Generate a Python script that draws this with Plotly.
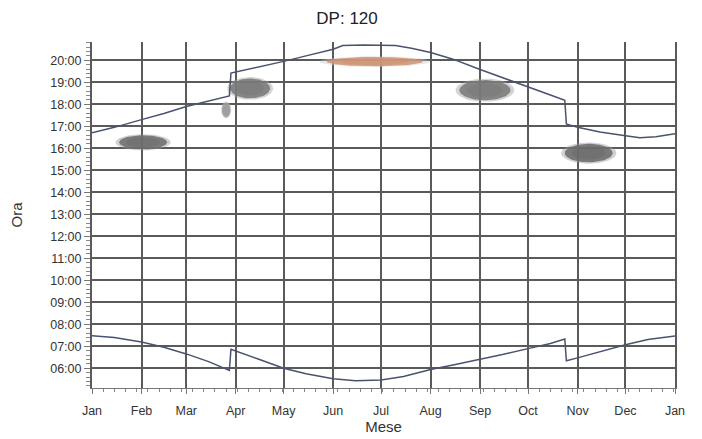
import numpy as np
import pandas as pd
import plotly.graph_objects as go

# ---------------- data ----------------
sunset_dates = ["2015-01-01", "2015-01-15", "2015-02-01", "2015-02-15", "2015-03-01",
                "2015-03-15", "2015-03-28", "2015-03-29", "2015-04-15", "2015-05-01",
                "2015-05-15", "2015-06-01", "2015-06-07", "2015-06-20", "2015-07-10",
                "2015-07-20", "2015-08-01", "2015-08-15", "2015-09-01", "2015-09-15",
                "2015-10-01", "2015-10-15", "2015-10-24", "2015-10-25", "2015-11-01",
                "2015-11-15", "2015-12-01", "2015-12-10", "2015-12-20", "2016-01-01"]
sunset_hours = [16.70, 16.95, 17.30, 17.58, 17.90,
                18.15, 18.38, 19.42, 19.68, 19.95,
                20.20, 20.50, 20.67, 20.69, 20.67,
                20.55, 20.35, 20.05, 19.58, 19.22,
                18.80, 18.42, 18.18, 17.10, 16.95,
                16.74, 16.57, 16.48, 16.52, 16.66]

sunrise_dates = ["2015-01-01", "2015-01-15", "2015-02-01", "2015-02-15", "2015-03-01",
                 "2015-03-15", "2015-03-28", "2015-03-29", "2015-04-15", "2015-05-01",
                 "2015-05-15", "2015-06-01", "2015-06-15", "2015-07-01", "2015-07-15",
                 "2015-08-01", "2015-08-15", "2015-09-01", "2015-09-15", "2015-10-01",
                 "2015-10-15", "2015-10-24", "2015-10-25", "2015-11-01", "2015-11-15",
                 "2015-12-01", "2015-12-15", "2016-01-01"]
sunrise_hours = [7.47, 7.40, 7.19, 6.95, 6.65,
                 6.30, 5.90, 6.86, 6.42, 6.00,
                 5.75, 5.52, 5.43, 5.46, 5.62,
                 5.94, 6.15, 6.39, 6.62, 6.89,
                 7.12, 7.33, 6.34, 6.47, 6.75,
                 7.07, 7.30, 7.47]

# glare patches: centre date, centre hour, half-width (days), half-height (hours), colour
patch_dates = ["2015-02-02", "2015-04-10", "2015-03-26", "2015-09-04", "2015-11-08", "2015-06-27"]
patch_hours = [16.27, 18.72, 17.74, 18.64, 15.78, 19.94]
patch_half_days = [15.0, 12.5, 2.8, 16.0, 15.0, 30.0]
patch_half_hours = [0.32, 0.45, 0.34, 0.46, 0.42, 0.21]
patch_colors = ["#6c6c6c", "#777777", "#9a9a9a", "#777777", "#6a6a6a", "#d09272"]
patch_halos = ["#9a9a9a", "#a0a0a0", "#c0c0c0", "#a0a0a0", "#9a9a9a", "#c8c8c8"]

hour_ticks = list(range(6, 21))
hour_labels = [f"{h:02d}:00" for h in hour_ticks]

title_text = "DP: 120"
x_title = "Mese"
y_title = "Ora"

# ---------------- figure ----------------
LINE = "#4a5270"
GRID = "#5a5a5a"
FONT = "Liberation Sans, Arial, sans-serif"

fig = go.Figure()

t = np.linspace(0, 2 * np.pi, 80)
for d, h, hw, hh, c, hc in zip(patch_dates, patch_hours, patch_half_days,
                               patch_half_hours, patch_colors, patch_halos):
    base = pd.Timestamp(d)
    for scale, op, col in [(1.15, 0.45, hc), (1.0, 0.85, c), (0.7, 0.5, c)]:
        xs = base + pd.to_timedelta(hw * scale * np.cos(t), unit="D")
        ys = h + hh * scale * np.sin(t)
        fig.add_trace(go.Scatter(x=xs, y=ys, mode="lines", fill="toself",
                                 line=dict(width=0), fillcolor=col, opacity=op,
                                 hoverinfo="skip", showlegend=False))

fig.add_trace(go.Scatter(x=pd.to_datetime(sunset_dates), y=sunset_hours, mode="lines",
                         line=dict(color=LINE, width=1.5), showlegend=False))
fig.add_trace(go.Scatter(x=pd.to_datetime(sunrise_dates), y=sunrise_hours, mode="lines",
                         line=dict(color=LINE, width=1.5), showlegend=False))

# the page body adds an 8px offset, so margins are shifted accordingly
fig.update_layout(
    width=702, height=439,
    margin=dict(l=84, r=35, t=34, b=59),
    paper_bgcolor="white", plot_bgcolor="white",
    font=dict(family=FONT, color="#333333", size=12.5),
    title=dict(text=title_text, x=0.483, xref="container", y=0.978, yref="container",
               xanchor="center", yanchor="middle", font=dict(size=17, color="#222222")),
    showlegend=False,
)
fig.update_xaxes(
    type="date", range=["2015-01-01", "2016-01-01"], automargin=False,
    tick0="2015-01-01", dtick="M1", tickformat="%b",
    showgrid=True, gridcolor=GRID, gridwidth=2,
    showline=True, linecolor="#777777", linewidth=1,
    ticks="outside", ticklen=5, tickcolor="#777777",
    minor=dict(dtick=7 * 86400000, tick0="2015-01-01", ticks="outside", ticklen=3,
               tickcolor="#888888", showgrid=False),
    ticklabelstandoff=6,
    title=dict(text=x_title, standoff=2, font=dict(size=15)),
    zeroline=False,
)
fig.update_yaxes(
    range=[5.1, 20.83], automargin=False,
    tickvals=hour_ticks, ticktext=hour_labels,
    showgrid=True, gridcolor=GRID, gridwidth=2,
    showline=True, mirror=True, linecolor=GRID, linewidth=2,
    ticks="outside", ticklen=6, tickcolor="#777777",
    minor=dict(dtick=0.2, ticks="outside", ticklen=4, tickcolor="#888888", showgrid=False),
    title=dict(text=y_title, standoff=24, font=dict(size=15)),
    zeroline=False,
)

fig.write_html("out.html")
